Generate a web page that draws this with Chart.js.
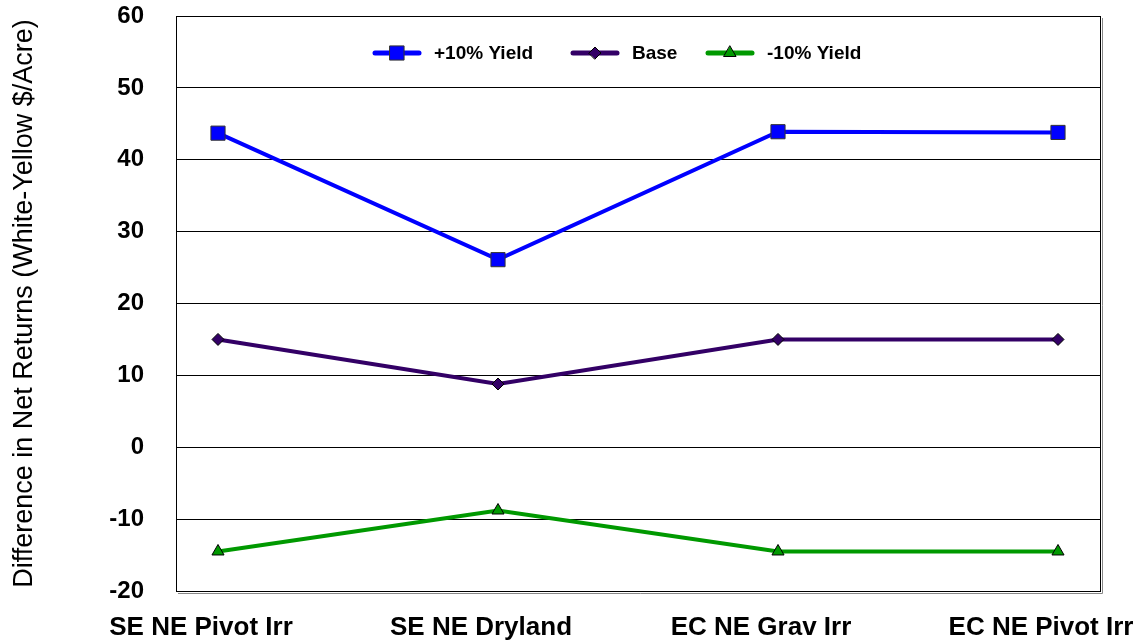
<!DOCTYPE html>
<html>
<head>
<meta charset="utf-8">
<script src="https://cdn.jsdelivr.net/npm/chart.js@4.4.1/dist/chart.umd.min.js"></script>
<style>
  html, body { margin: 0; padding: 0; background: #fff; }
  #wrap { width: 1141px; height: 643px; }
</style>
</head>
<body>
<div id="wrap"><canvas id="c" width="1141" height="643"></canvas></div>
<script>
// Regions compared and the difference in net returns for each yield scenario
const categories = ['SE NE Pivot Irr', 'SE NE Dryland', 'EC NE Grav Irr', 'EC NE Pivot Irr'];
const yieldPlus10 = [43.7, 26.1, 43.9, 43.8];
const baseCase = [15.0, 8.8, 15.0, 15.0];
const yieldMinus10 = [-14.5, -8.8, -14.5, -14.5];
const seriesNames = ['+10% Yield', 'Base', '-10% Yield'];
const yTickValues = [-20, -10, 0, 10, 20, 30, 40, 50, 60];
const yTitle = 'Difference in Net Returns (White-Yellow $/Acre)';

const toPoints = vals => vals.map((v, i) => ({ x: i, y: v }));

// Marker shapes with the same geometry Chart.js uses for its point styles
function drawMarker(ctx, style, r, x, y, fill, stroke, bw) {
  ctx.save();
  ctx.beginPath();
  if (style === 'rect') {
    const s = Math.SQRT1_2 * r;
    ctx.rect(x - s, y - s, 2 * s, 2 * s);
  } else if (style === 'rectRot') {
    ctx.moveTo(x - r, y); ctx.lineTo(x, y - r); ctx.lineTo(x + r, y); ctx.lineTo(x, y + r);
    ctx.closePath();
  } else if (style === 'triangle') {
    let a = 0;
    ctx.moveTo(x + Math.sin(a) * r, y - Math.cos(a) * r);
    a += Math.PI * 2 / 3;
    ctx.lineTo(x + Math.sin(a) * r, y - Math.cos(a) * r);
    a += Math.PI * 2 / 3;
    ctx.lineTo(x + Math.sin(a) * r, y - Math.cos(a) * r);
    ctx.closePath();
  }
  ctx.fillStyle = fill;
  ctx.fill();
  ctx.lineWidth = bw;
  ctx.strokeStyle = stroke;
  ctx.stroke();
  ctx.restore();
}

// Plot frame with a grey drop shadow on the right and bottom edges
const plotFrame = {
  id: 'plotFrame',
  beforeDatasetsDraw(chart) {
    const { ctx, chartArea: a } = chart;
    ctx.save();
    ctx.lineWidth = 1;
    ctx.strokeStyle = '#888';
    ctx.beginPath();
    ctx.moveTo(a.right + 2.5, a.top + 2);
    ctx.lineTo(a.right + 2.5, a.bottom + 2.5);
    ctx.lineTo(a.left + 2, a.bottom + 2.5);
    ctx.stroke();
    ctx.strokeStyle = '#000';
    ctx.strokeRect(a.left + 0.5, a.top + 0.5, a.right - a.left, a.bottom - a.top);
    ctx.restore();
  }
};

// Legend drawn inside the plot area: line sample with marker, then label
const insideLegend = {
  id: 'insideLegend',
  afterDatasetsDraw(chart, args, opts) {
    const { ctx, chartArea: a } = chart;
    ctx.save();
    ctx.font = opts.font;
    ctx.textBaseline = 'middle';
    ctx.textAlign = 'left';
    chart.data.datasets.forEach((ds, i) => {
      const x0 = a.left + opts.offsets[i];
      const y = a.top + opts.top;
      ctx.strokeStyle = ds.borderColor;
      ctx.lineWidth = opts.lineWidth;
      ctx.lineCap = 'round';
      ctx.beginPath();
      ctx.moveTo(x0, y);
      ctx.lineTo(x0 + opts.lineLength, y);
      ctx.stroke();
      drawMarker(ctx, ds.pointStyle, ds.pointRadius, x0 + opts.lineLength / 2, y,
        ds.pointBackgroundColor, ds.pointBorderColor, ds.pointBorderWidth);
      ctx.fillStyle = '#000';
      ctx.fillText(ds.label, x0 + opts.lineLength + opts.gap, y + 1);
    });
    ctx.restore();
  }
};

Chart.defaults.font.family = '"Liberation Sans", Arial, sans-serif';
Chart.defaults.color = '#000';

new Chart(document.getElementById('c'), {
  type: 'line',
  data: {
    datasets: [
      {
        label: seriesNames[0],
        data: toPoints(yieldPlus10),
        borderColor: '#0000ff',
        borderWidth: 4,
        pointStyle: 'rect',
        pointRadius: 10,
        pointBackgroundColor: '#0000ff',
        pointBorderColor: '#333333',
        pointBorderWidth: 1
      },
      {
        label: seriesNames[1],
        data: toPoints(baseCase),
        borderColor: '#330066',
        borderWidth: 4,
        pointStyle: 'rectRot',
        pointRadius: 6,
        pointBackgroundColor: '#330066',
        pointBorderColor: '#000000',
        pointBorderWidth: 1
      },
      {
        label: seriesNames[2],
        data: toPoints(yieldMinus10),
        borderColor: '#009900',
        borderWidth: 4,
        pointStyle: 'triangle',
        pointRadius: 7,
        pointBackgroundColor: '#009900',
        pointBorderColor: '#000000',
        pointBorderWidth: 1
      }
    ]
  },
  options: {
    responsive: false,
    animation: false,
    devicePixelRatio: 1,
    layout: { padding: { left: 4, right: 41, top: 16, bottom: 0 } },
    elements: { line: { tension: 0 } },
    plugins: {
      legend: { display: false },
      tooltip: { enabled: false },
      insideLegend: {
        offsets: [199, 397, 532],
        top: 37,
        lineLength: 44,
        lineWidth: 5,
        gap: 15,
        font: 'bold 19px "Liberation Sans", Arial, sans-serif'
      }
    },
    scales: {
      x: {
        type: 'linear',
        min: -0.15,
        max: 3.15,
        afterBuildTicks: s => { s.ticks = categories.map((c, i) => ({ value: i })); },
        afterFit: s => { s.height = 52; s.paddingLeft = 0; s.paddingRight = 0; },
        grid: { display: false, drawTicks: false },
        border: { display: false },
        ticks: {
          autoSkip: false,
          maxRotation: 0,
          minRotation: 0,
          padding: 21,
          labelOffset: -17,
          font: { size: 26, weight: 'bold' },
          callback: v => categories[v]
        }
      },
      y: {
        min: -20,
        max: 60,
        afterBuildTicks: s => { s.ticks = yTickValues.map(v => ({ value: v })); },
        afterFit: s => { s.width = 172; s.paddingTop = 0; s.paddingBottom = 0; },
        grid: { color: '#000', lineWidth: 1, drawTicks: false },
        border: { display: false },
        ticks: {
          padding: 32,
          font: { size: 24, weight: 'bold' }
        },
        title: {
          display: true,
          text: yTitle,
          font: { size: 27, weight: 'normal' },
          padding: { top: 4, bottom: 0 }
        }
      }
    }
  },
  plugins: [plotFrame, insideLegend]
});
</script>
</body>
</html>
